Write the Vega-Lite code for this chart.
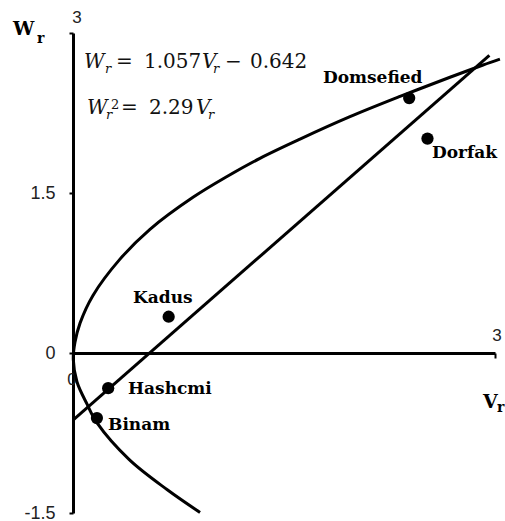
{
  "$schema": "https://vega.github.io/schema/vega-lite/v6.json",
  "width": 422,
  "height": 480,
  "autosize": {"type": "none"},
  "padding": {"left": 73, "top": 33, "right": 10, "bottom": 8},
  "background": "white",
  "config": {"view": {"stroke": null}},
  "datasets": {
    "parabola": [
      {"o": 1, "Vr": 0.903, "Wr": -1.495},
      {"o": 2, "Vr": 0.668, "Wr": -1.28},
      {"o": 3, "Vr": 0.40, "Wr": -1.0},
      {"o": 4, "Vr": 0.171, "Wr": -0.656},
      {"o": 5, "Vr": 0.100, "Wr": -0.48},
      {"o": 6, "Vr": 0.028, "Wr": -0.27},
      {"o": 7, "Vr": 0.002, "Wr": -0.06},
      {"o": 8, "Vr": 0.014, "Wr": 0.10},
      {"o": 9, "Vr": 0.050, "Wr": 0.28},
      {"o": 10, "Vr": 0.142, "Wr": 0.54},
      {"o": 11, "Vr": 0.334, "Wr": 0.88},
      {"o": 12, "Vr": 0.547, "Wr": 1.16},
      {"o": 13, "Vr": 0.853, "Wr": 1.46},
      {"o": 14, "Vr": 1.095, "Wr": 1.655},
      {"o": 15, "Vr": 1.329, "Wr": 1.825},
      {"o": 16, "Vr": 1.614, "Wr": 2.005},
      {"o": 17, "Vr": 1.969, "Wr": 2.215},
      {"o": 18, "Vr": 2.325, "Wr": 2.405},
      {"o": 19, "Vr": 2.680, "Wr": 2.585},
      {"o": 20, "Vr": 2.915, "Wr": 2.70},
      {"o": 21, "Vr": 3.035, "Wr": 2.755}
    ],
    "regline": [
      {"Vr": 0.0, "Wr": -0.63},
      {"Vr": 2.96, "Wr": 2.79}
    ],
    "points": [
      {"site": "Domsefied", "Vr": 2.39, "Wr": 2.39, "lx": 1.777, "ly": 2.578},
      {"site": "Dorfak", "Vr": 2.52, "Wr": 2.01, "lx": 2.552, "ly": 1.875},
      {"site": "Kadus", "Vr": 0.68, "Wr": 0.34, "lx": 0.427, "ly": 0.516},
      {"site": "Hashcmi", "Vr": 0.25, "Wr": -0.33, "lx": 0.391, "ly": -0.3375},
      {"site": "Binam", "Vr": 0.17, "Wr": -0.61, "lx": 0.249, "ly": -0.675}
    ],
    "numlabels": [
      {"t": "3", "x": 0.0284, "y": 3.1406},
      {"t": "3", "x": 3.0142, "y": 0.1594},
      {"t": "0", "x": -0.0071, "y": -0.2531}
    ],
    "titleBig": [
      {"t": "W", "x": -0.4265, "y": 2.981},
      {"t": "V", "x": 2.9146, "y": -0.5156}
    ],
    "titleSub": [
      {"t": "r", "x": -0.2559, "y": 2.906},
      {"t": "r", "x": 3.0142, "y": -0.553}
    ],
    "eqItalic": [
      {"t": "W", "x": 0.0782, "y": 2.672},
      {"t": "V", "x": 0.9170, "y": 2.672},
      {"t": "W", "x": 0.0995, "y": 2.2406},
      {"t": "V", "x": 0.8744, "y": 2.2406}
    ],
    "eqSub": [
      {"t": "r", "x": 0.2275, "y": 2.625},
      {"t": "r", "x": 0.9952, "y": 2.625},
      {"t": "r", "x": 0.2346, "y": 2.194},
      {"t": "r", "x": 0.9597, "y": 2.194}
    ],
    "eqSup": [
      {"t": "2", "x": 0.2701, "y": 2.2875}
    ],
    "eqUpright": [
      {"t": "=", "x": 0.3057, "y": 2.672},
      {"t": "1.057", "x": 0.5047, "y": 2.672},
      {"t": "−", "x": 1.0805, "y": 2.672},
      {"t": "0.642", "x": 1.2582, "y": 2.672},
      {"t": "=", "x": 0.3412, "y": 2.2406},
      {"t": "2.29", "x": 0.5403, "y": 2.2406}
    ]
  },
  "layer": [
    {
      "data": {"name": "numlabels"},
      "mark": {"type": "text", "font": "Liberation Sans", "fontSize": 17, "align": "center", "baseline": "middle", "color": "#222222"},
      "encoding": {
        "x": {"field": "x", "type": "quantitative", "scale": {"domain": [0, 3], "nice": false, "zero": false},
              "axis": {"orient": "bottom", "offset": -160, "values": [3], "labels": false, "ticks": true, "tickSize": 5, "tickWidth": 2, "tickColor": "black", "domainColor": "black", "domainWidth": 3, "grid": false, "title": null}},
        "y": {"field": "y", "type": "quantitative", "scale": {"domain": [-1.5, 3], "nice": false, "zero": false},
              "axis": {"orient": "left", "values": [-1.5, 0, 1.5, 3], "labelExpr": "datum.value == 3 ? '' : toString(datum.value)", "grid": false, "title": null, "domainColor": "black", "domainWidth": 3, "tickColor": "black", "tickWidth": 2, "tickSize": 4, "labelFont": "Liberation Sans", "labelFontSize": 18, "labelPadding": 14, "labelColor": "#222222"}},
        "text": {"field": "t"}
      }
    },
    {
      "data": {"name": "parabola"},
      "mark": {"type": "line", "color": "black", "strokeWidth": 3, "interpolate": "catmull-rom"},
      "encoding": {
        "x": {"field": "Vr", "type": "quantitative"},
        "y": {"field": "Wr", "type": "quantitative"},
        "order": {"field": "o", "type": "quantitative"}
      }
    },
    {
      "data": {"name": "regline"},
      "mark": {"type": "line", "color": "black", "strokeWidth": 3},
      "encoding": {
        "x": {"field": "Vr", "type": "quantitative"},
        "y": {"field": "Wr", "type": "quantitative"}
      }
    },
    {
      "data": {"name": "points"},
      "mark": {"type": "circle", "color": "black", "opacity": 1, "size": 150},
      "encoding": {
        "x": {"field": "Vr", "type": "quantitative"},
        "y": {"field": "Wr", "type": "quantitative"}
      }
    },
    {
      "data": {"name": "points"},
      "mark": {"type": "text", "font": "DejaVu Serif", "fontWeight": "bold", "fontSize": 17, "align": "left", "baseline": "middle", "color": "black"},
      "encoding": {
        "x": {"field": "lx", "type": "quantitative"},
        "y": {"field": "ly", "type": "quantitative"},
        "text": {"field": "site"}
      }
    },
    {
      "data": {"name": "titleBig"},
      "mark": {"type": "text", "font": "DejaVu Serif", "fontWeight": "bold", "fontSize": 19, "align": "left", "baseline": "alphabetic", "color": "black"},
      "encoding": {
        "x": {"field": "x", "type": "quantitative"},
        "y": {"field": "y", "type": "quantitative"},
        "text": {"field": "t"}
      }
    },
    {
      "data": {"name": "titleSub"},
      "mark": {"type": "text", "font": "DejaVu Serif", "fontWeight": "bold", "fontSize": 14, "align": "left", "baseline": "alphabetic", "color": "black"},
      "encoding": {
        "x": {"field": "x", "type": "quantitative"},
        "y": {"field": "y", "type": "quantitative"},
        "text": {"field": "t"}
      }
    },
    {
      "data": {"name": "eqItalic"},
      "mark": {"type": "text", "font": "DejaVu Serif", "fontStyle": "italic", "fontSize": 20, "align": "left", "baseline": "alphabetic", "color": "#111111"},
      "encoding": {
        "x": {"field": "x", "type": "quantitative"},
        "y": {"field": "y", "type": "quantitative"},
        "text": {"field": "t"}
      }
    },
    {
      "data": {"name": "eqSub"},
      "mark": {"type": "text", "font": "DejaVu Serif", "fontStyle": "italic", "fontSize": 13, "align": "left", "baseline": "alphabetic", "color": "#111111"},
      "encoding": {
        "x": {"field": "x", "type": "quantitative"},
        "y": {"field": "y", "type": "quantitative"},
        "text": {"field": "t"}
      }
    },
    {
      "data": {"name": "eqSup"},
      "mark": {"type": "text", "font": "DejaVu Serif", "fontSize": 13, "align": "left", "baseline": "alphabetic", "color": "#111111"},
      "encoding": {
        "x": {"field": "x", "type": "quantitative"},
        "y": {"field": "y", "type": "quantitative"},
        "text": {"field": "t"}
      }
    },
    {
      "data": {"name": "eqUpright"},
      "mark": {"type": "text", "font": "DejaVu Serif", "fontSize": 20, "align": "left", "baseline": "alphabetic", "color": "#111111"},
      "encoding": {
        "x": {"field": "x", "type": "quantitative"},
        "y": {"field": "y", "type": "quantitative"},
        "text": {"field": "t"}
      }
    }
  ]
}
